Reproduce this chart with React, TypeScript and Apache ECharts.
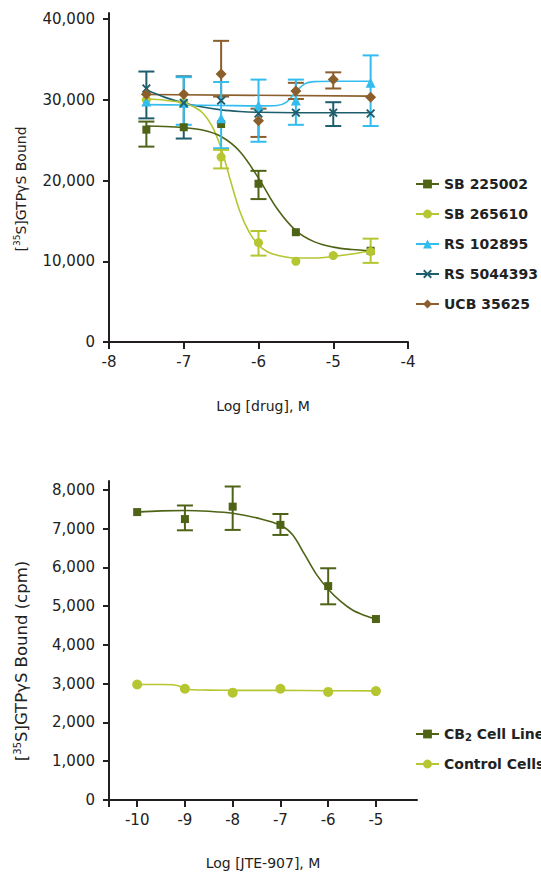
import React, { useEffect, useRef } from 'react';
import * as echarts from 'echarts';

// ---------- Top chart data ----------
const topX = [-7.5, -7, -6.5, -6, -5.5, -5, -4.5];
const topXTicks = [-8, -7, -6, -5, -4];
const topYTicks = [0, 10000, 20000, 30000, 40000];

const sb225002 = [26300, 26600, 27000, 19600, 13600, null, 11300];
const sb225002Low = [24200, null, null, 17700, null, null, null];
const sb225002High = [27300, null, null, 21200, null, null, null];

const sb265610 = [30000, 29700, 22900, 12300, 10000, 10700, 11200];
const sb265610Low = [null, null, 21500, 10700, null, null, 9800];
const sb265610High = [null, null, 23800, 13750, null, null, 12800];

const rs102895 = [29800, 29600, 27700, 29300, 29900, null, 32100];
const rs102895Low = [null, 26900, 24000, 24800, 26900, null, 26750];
const rs102895High = [null, 32800, 32200, 32500, 32500, null, 35500];

const rs5044393 = [31400, 29600, 29900, 28300, 28400, 28400, 28300];
const rs5044393Low = [27700, 25200, null, null, null, 26750, null];
const rs5044393High = [33500, 32900, null, null, null, 29700, null];

const ucb35625 = [30700, 30700, 33200, 27400, 31100, 32500, 30300];
const ucb35625Low = [null, null, 30400, 25400, 30100, 31400, null];
const ucb35625High = [null, null, 37300, 28900, 32100, 33400, null];

// fitted curves
const sb225002FitX = [-7.5, -7.25, -7, -6.75, -6.5, -6.25, -6, -5.75, -5.5, -5.25, -5, -4.75, -4.5];
const sb225002FitY = [26750, 26700, 26550, 26250, 25450, 23600, 20300, 16500, 13800, 12400, 11750, 11450, 11300];

const sb265610FitX = [-7.5, -7.25, -7, -6.875, -6.75, -6.625, -6.5, -6.375, -6.25, -6.125, -6, -5.875, -5.75, -5.5, -5.25, -5, -4.75, -4.5];
const sb265610FitY = [30100, 29950, 29600, 29150, 28400, 26800, 24000, 20000, 16200, 13600, 12000, 11150, 10750, 10400, 10400, 10600, 10900, 11300];

const rs102895FitX = [-7.5, -7, -6.5, -6, -5.75, -5.625, -5.5, -5.375, -5.25, -5, -4.75, -4.5];
const rs102895FitY = [29400, 29350, 29300, 29250, 29300, 29700, 31000, 32000, 32250, 32300, 32300, 32300];

const rs5044393FitX = [-7.5, -7.25, -7, -6.75, -6.5, -6.25, -6, -5.5, -5, -4.5];
const rs5044393FitY = [31200, 30300, 29600, 29100, 28750, 28550, 28450, 28400, 28400, 28400];

const ucb35625FitX = [-7.5, -4.5];
const ucb35625FitY = [30650, 30450];

// ---------- Bottom chart data ----------
const botX = [-10, -9, -8, -7, -6, -5];
const botXTicks = [-10, -9, -8, -7, -6, -5];
const botYTicks = [0, 1000, 2000, 3000, 4000, 5000, 6000, 7000, 8000];

const cb2 = [7430, 7250, 7570, 7100, 5520, 4670];
const cb2Low = [null, 6960, 6970, 6840, 5050, null];
const cb2High = [null, 7600, 8090, 7380, 5980, null];

const control = [2980, 2870, 2770, 2870, 2790, 2810];

const cb2FitX = [-10, -9.5, -9, -8.5, -8, -7.5, -7, -6.75, -6.5, -6.25, -6, -5.75, -5.5, -5.25, -5];
const cb2FitY = [7430, 7460, 7470, 7450, 7400, 7280, 7090, 6850, 6350, 5830, 5440, 5140, 4910, 4770, 4670];

const controlFitX = [-10, -9.5, -9.25, -9.125, -9, -8.5, -8, -7, -6, -5];
const controlFitY = [2980, 2980, 2975, 2940, 2860, 2835, 2830, 2828, 2820, 2815];

// ---------- styles ----------
const FONT = 'DejaVu Sans';
const AXIS = '#231f20';
const TXT = '#222222';
const C_DARKOLIVE = '#4e6316';
const C_LIGHTOLIVE = '#b5c630';
const C_BLUE = '#33bdee';
const C_TEAL = '#1e5e6c';
const C_BROWN = '#8c5e2c';
const X_SYMBOL = 'path://M0,1.5L1.5,0L5,3.5L8.5,0L10,1.5L6.5,5L10,8.5L8.5,10L5,6.5L1.5,10L0,8.5L3.5,5Z';

const pts = (xs: number[], ys: (number | null)[]) =>
  xs.map((x, i) => (ys[i] == null ? null : [x, ys[i] as number])).filter((p) => p !== null) as number[][];

const errs = (xs: number[], lo: (number | null)[], hi: (number | null)[]) =>
  xs
    .map((x, i) => (lo[i] == null || hi[i] == null ? null : [x, lo[i] as number, hi[i] as number]))
    .filter((p) => p !== null) as number[][];

function markerSeries(name: string, data: number[][], color: string, symbol: string, size: number, idx: number) {
  return {
    type: 'line',
    name,
    xAxisIndex: idx,
    yAxisIndex: idx,
    data,
    color,
    symbol,
    symbolSize: size,
    showSymbol: true,
    lineStyle: { width: 0, opacity: 0 },
    itemStyle: { color, opacity: 1 },
    z: 5,
  };
}

function fitSeries(name: string, xs: number[], ys: number[], color: string, idx: number, smooth: number) {
  return {
    type: 'line',
    name: name + ' fit',
    xAxisIndex: idx,
    yAxisIndex: idx,
    data: xs.map((x, i) => [x, ys[i]]),
    symbol: 'none',
    smooth,
    lineStyle: { width: 1.6, color },
    z: 3,
    silent: true,
  };
}

function errSeries(name: string, data: number[][], color: string, idx: number) {
  return {
    type: 'custom',
    name: name + ' error',
    xAxisIndex: idx,
    yAxisIndex: idx,
    data,
    encode: { x: 0, y: [1, 2] },
    z: 4,
    silent: true,
    renderItem: (_params: any, api: any) => {
      const x = api.value(0);
      const lo = api.coord([x, api.value(1)]);
      const hi = api.coord([x, api.value(2)]);
      const hw = 8;
      const style = { stroke: color, lineWidth: 2, fill: null };
      return {
        type: 'group',
        children: [
          { type: 'line', shape: { x1: lo[0], y1: lo[1], x2: hi[0], y2: hi[1] }, style },
          { type: 'line', shape: { x1: hi[0] - hw, y1: hi[1], x2: hi[0] + hw, y2: hi[1] }, style },
          { type: 'line', shape: { x1: lo[0] - hw, y1: lo[1], x2: lo[0] + hw, y2: lo[1] }, style },
        ],
      };
    },
  };
}

const fmtThousands = (v: number) => Math.round(v).toLocaleString('en-US');

function yAxisCfg(idx: number, max: number, ticks: number[], name: string, fontSize: number, padRight: number, padLeft: number) {
  return {
    type: 'value',
    gridIndex: idx,
    min: 0,
    max,
    name,
    nameLocation: 'middle',
    nameGap: 79,
    nameTextStyle: {
      fontFamily: FONT,
      fontSize,
      color: TXT,
      lineHeight: 18,
      padding: [0, padRight, 0, padLeft],
      rich: {
        sup: { fontFamily: FONT, fontSize: Math.round(fontSize * 0.62), color: TXT, verticalAlign: 'top', lineHeight: 9 },
      },
    },
    axisLine: { show: true, lineStyle: { color: AXIS, width: 2 } },
    axisTick: { show: true, length: 6, inside: false, customValues: ticks, lineStyle: { color: AXIS, width: 2 } },
    axisLabel: {
      customValues: ticks,
      formatter: (v: number) => fmtThousands(v),
      fontFamily: FONT,
      fontSize: 15,
      color: TXT,
      margin: 14,
    },
    splitLine: { show: false },
  };
}

function xAxisCfg(idx: number, min: number, max: number, ticks: number[], tickMarks: number[], name: string, nameGap: number, padLeft: number) {
  return {
    type: 'value',
    gridIndex: idx,
    min,
    max,
    name,
    nameLocation: 'middle',
    nameGap,
    nameTextStyle: { fontFamily: FONT, fontSize: 14, color: TXT, lineHeight: 16, padding: [0, 0, 0, padLeft] },
    axisLine: { show: true, onZero: false, lineStyle: { color: AXIS, width: 2 } },
    axisTick: { show: true, length: 7, customValues: tickMarks, lineStyle: { color: AXIS, width: 2 } },
    axisLabel: {
      customValues: ticks,
      formatter: (v: number) => String(v),
      fontFamily: FONT,
      fontSize: 15,
      color: TXT,
      margin: 12,
    },
    splitLine: { show: false },
  };
}

const legendBase = {
  orient: 'vertical',
  padding: 0,
  itemGap: 14,
  itemWidth: 23,
  itemHeight: 11,
  textStyle: { fontFamily: FONT, fontWeight: 'bold', fontSize: 14, color: TXT, lineHeight: 16 },
  lineStyle: { width: 2, opacity: 1 },
  selectedMode: false,
};

export default function App() {
  const ref = useRef<HTMLDivElement>(null);

  useEffect(() => {
    if (!ref.current) return;
    const chart = echarts.init(ref.current, undefined, { renderer: 'svg' });

    const option: any = {
      animation: false,
      backgroundColor: '#ffffff',
      grid: [
        { left: 109, right: 133, top: 13, bottom: 530, containLabel: false },
        { left: 109, right: 124, top: 481, bottom: 72, containLabel: false },
      ],
      xAxis: [
        xAxisCfg(0, -8, -4, topXTicks, topXTicks, 'Log [drug], M', 56, 9),
        xAxisCfg(1, -10.59, -4.14, botXTicks, [-10.59, ...botXTicks], 'Log [JTE-907], M', 55, 0),
      ],
      yAxis: [
        yAxisCfg(0, 40750, topYTicks, '[{sup|35}S]GTPγS Bound', 14, 23, 0),
        yAxisCfg(1, 8232, botYTicks, '[{sup|35}S]GTPγS Bound (cpm)', 16.5, 41, 0),
      ],
      legend: [
        {
          ...legendBase,
          left: 415,
          top: 176,
          data: ['SB 225002', 'SB 265610', 'RS 102895', 'RS 5044393', 'UCB 35625'],
        },
        {
          ...legendBase,
          left: 415,
          top: 726,
          data: ['CB2 Cell Line', 'Control Cells'],
          formatter: (n: string) => (n === 'CB2 Cell Line' ? 'CB{sub|2} Cell Line' : n),
          textStyle: {
            ...legendBase.textStyle,
            rich: {
              sub: { fontFamily: FONT, fontWeight: 'bold', fontSize: 10, color: TXT, verticalAlign: 'bottom', lineHeight: 10 },
            },
          },
        },
      ],
      series: [
        // markers first (legend icons come from these)
        markerSeries('SB 225002', pts(topX, sb225002), C_DARKOLIVE, 'rect', 8, 0),
        markerSeries('SB 265610', pts(topX, sb265610), C_LIGHTOLIVE, 'circle', 9, 0),
        markerSeries('RS 102895', pts(topX, rs102895), C_BLUE, 'triangle', 10, 0),
        markerSeries('RS 5044393', pts(topX, rs5044393), C_TEAL, X_SYMBOL, 9, 0),
        markerSeries('UCB 35625', pts(topX, ucb35625), C_BROWN, 'diamond', 11, 0),
        markerSeries('CB2 Cell Line', pts(botX, cb2), C_DARKOLIVE, 'rect', 8, 1),
        markerSeries('Control Cells', pts(botX, control), C_LIGHTOLIVE, 'circle', 10, 1),

        fitSeries('UCB 35625', ucb35625FitX, ucb35625FitY, C_BROWN, 0, 0),
        fitSeries('RS 5044393', rs5044393FitX, rs5044393FitY, C_TEAL, 0, 0.35),
        fitSeries('RS 102895', rs102895FitX, rs102895FitY, C_BLUE, 0, 0.35),
        fitSeries('SB 265610', sb265610FitX, sb265610FitY, C_LIGHTOLIVE, 0, 0.35),
        fitSeries('SB 225002', sb225002FitX, sb225002FitY, C_DARKOLIVE, 0, 0.35),
        fitSeries('CB2 Cell Line', cb2FitX, cb2FitY, C_DARKOLIVE, 1, 0.35),
        fitSeries('Control Cells', controlFitX, controlFitY, C_LIGHTOLIVE, 1, 0.35),

        errSeries('UCB 35625', errs(topX, ucb35625Low, ucb35625High), C_BROWN, 0),
        errSeries('RS 5044393', errs(topX, rs5044393Low, rs5044393High), C_TEAL, 0),
        errSeries('RS 102895', errs(topX, rs102895Low, rs102895High), C_BLUE, 0),
        errSeries('SB 265610', errs(topX, sb265610Low, sb265610High), C_LIGHTOLIVE, 0),
        errSeries('SB 225002', errs(topX, sb225002Low, sb225002High), C_DARKOLIVE, 0),
        errSeries('CB2 Cell Line', errs(botX, cb2Low, cb2High), C_DARKOLIVE, 1),
      ],
    };

    chart.setOption(option);
    return () => chart.dispose();
  }, []);

  return (
    <div
      ref={ref}
      style={{ position: 'absolute', left: 0, top: 0, width: 541, height: 872, background: '#fff' }}
    />
  );
}
